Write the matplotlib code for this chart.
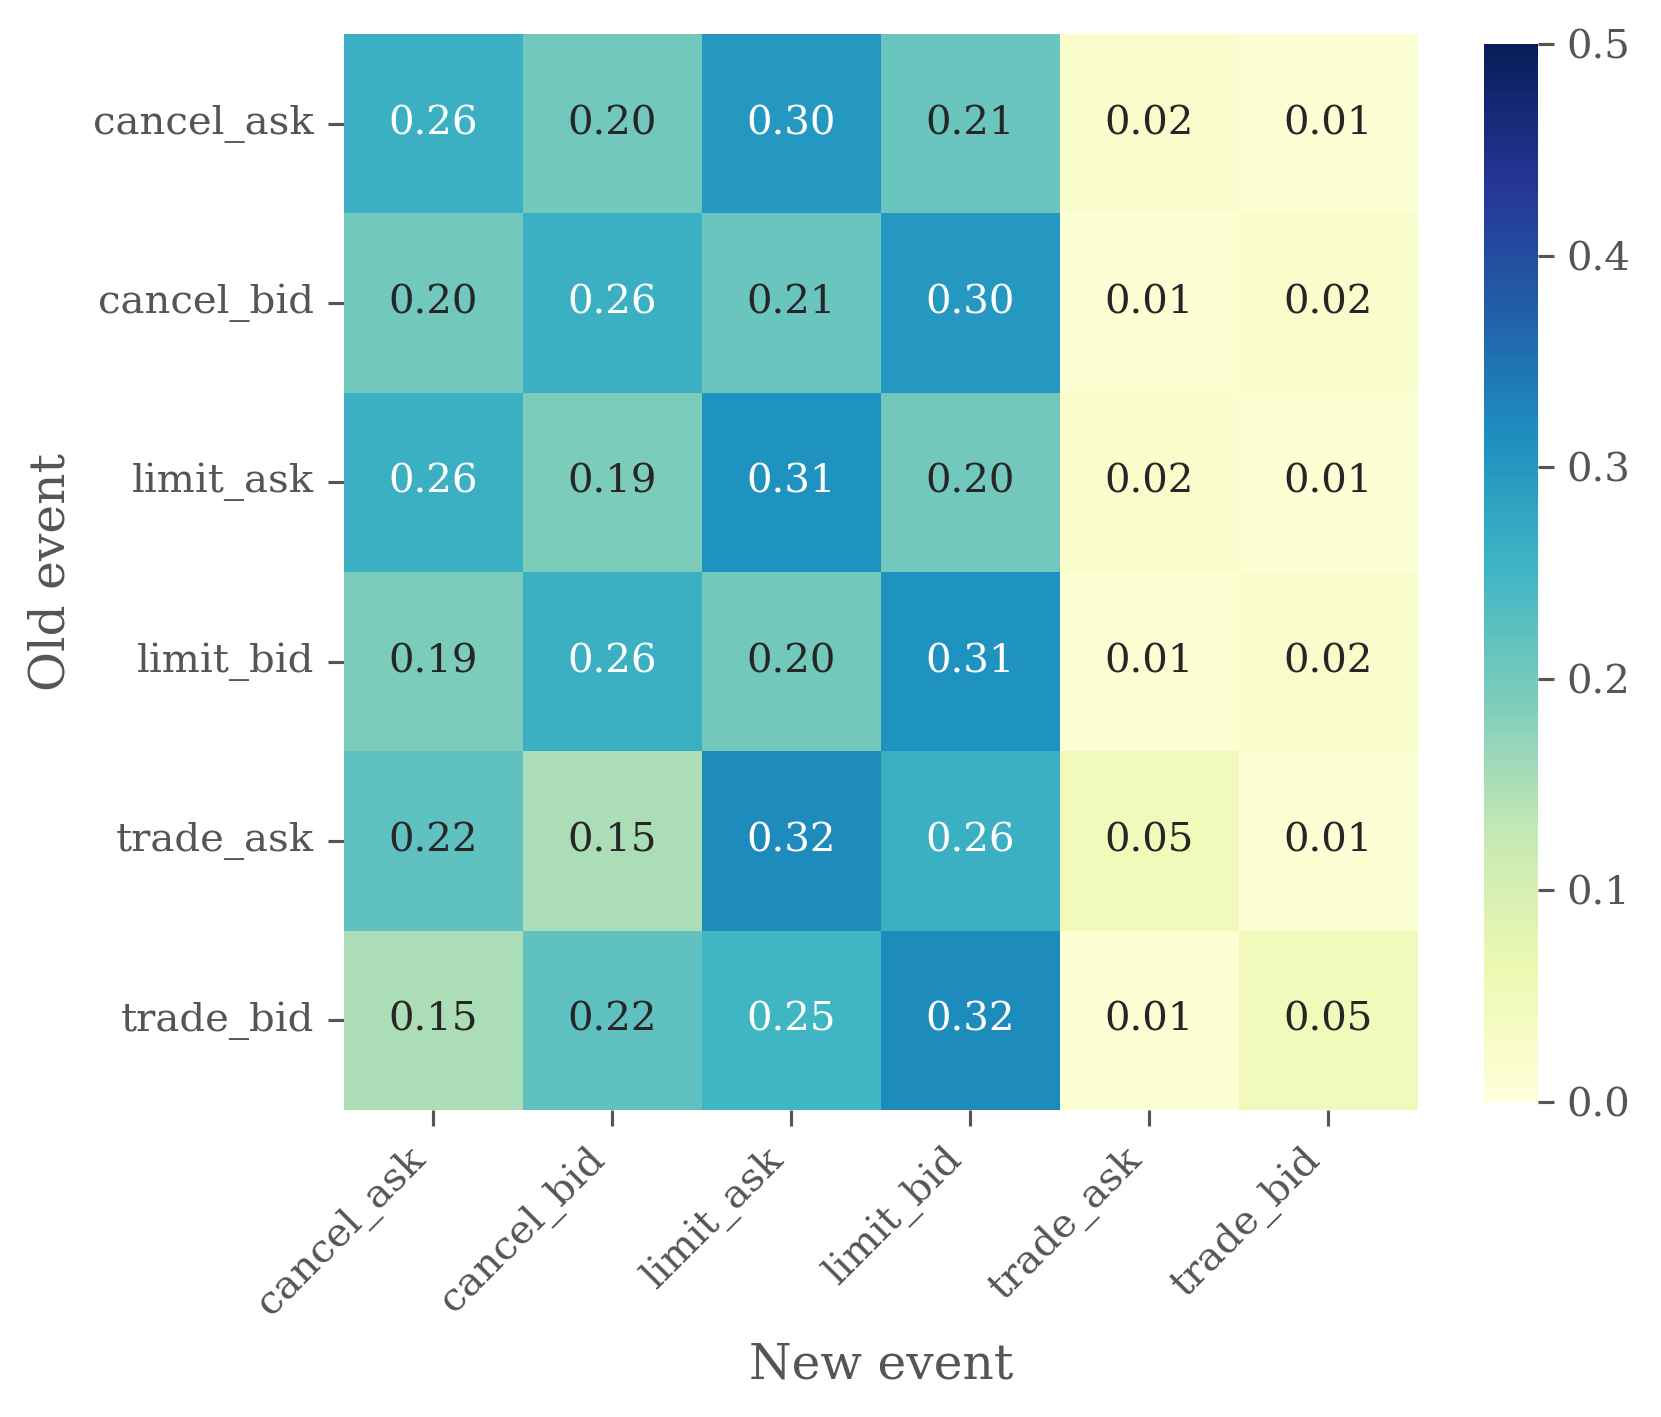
import matplotlib
matplotlib.use("Agg")
import matplotlib.pyplot as plt
import numpy as np
import seaborn as sns

labels = ["cancel_ask", "cancel_bid", "limit_ask", "limit_bid", "trade_ask", "trade_bid"]
row_cancel_ask = [0.26, 0.20, 0.30, 0.21, 0.02, 0.01]
row_cancel_bid = [0.20, 0.26, 0.21, 0.30, 0.01, 0.02]
row_limit_ask = [0.26, 0.19, 0.31, 0.20, 0.02, 0.01]
row_limit_bid = [0.19, 0.26, 0.20, 0.31, 0.01, 0.02]
row_trade_ask = [0.22, 0.15, 0.32, 0.26, 0.05, 0.01]
row_trade_bid = [0.15, 0.22, 0.25, 0.32, 0.01, 0.05]

data = np.array([row_cancel_ask, row_cancel_bid, row_limit_ask,
                 row_limit_bid, row_trade_ask, row_trade_bid])

sns.set_style("ticks")
plt.rcParams['font.family'] = ['DejaVu Serif']
gray = "#555555"
plt.rcParams['text.color'] = gray
plt.rcParams['axes.labelcolor'] = gray
plt.rcParams['xtick.color'] = gray
plt.rcParams['ytick.color'] = gray

fig = plt.figure(figsize=(1661/250, 1417/250), dpi=250)
ax = fig.add_axes([0.2071, 0.2167, 0.6466, 0.7594])
cax = fig.add_axes([0.8934, 0.2223, 0.0325, 0.7466])

sns.heatmap(data, ax=ax, cbar_ax=cax, cmap="YlGnBu", vmin=0, vmax=0.5,
            annot=True, fmt=".2f", annot_kws={"fontsize": 11.6},
            xticklabels=labels, yticklabels=labels)

ax.set_xlabel("New event", fontsize=14, labelpad=5.5)
ax.set_ylabel("Old event", fontsize=14, labelpad=5.5)
ax.tick_params(axis="both", labelsize=11.6, length=4.6, width=0.9, pad=4)
plt.setp(ax.get_xticklabels(), rotation=45, ha="right")
plt.setp(ax.get_yticklabels(), rotation=0)
cax.tick_params(labelsize=11.6, length=4.6, width=0.9)
cax.set_yticks([0.0, 0.1, 0.2, 0.3, 0.4, 0.5])
cax.set_yticklabels(["0.0", "0.1", "0.2", "0.3", "0.4", "0.5"])

fig.savefig("out.png", dpi=250)
